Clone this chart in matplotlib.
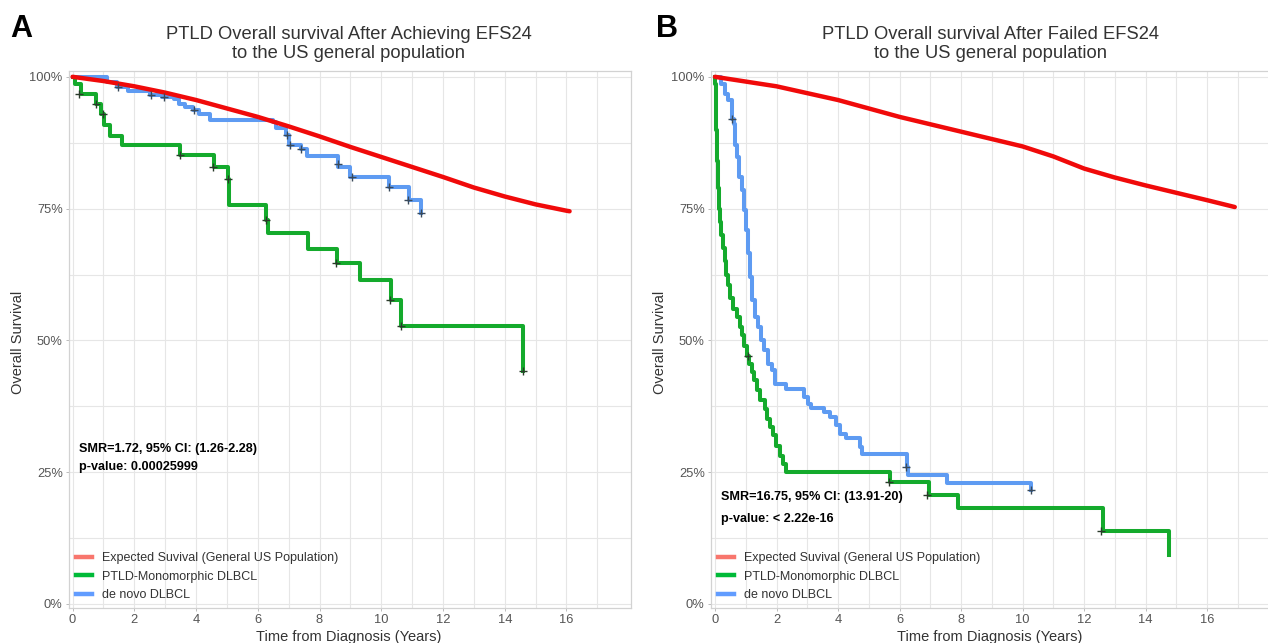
import numpy as np
import matplotlib
matplotlib.use("Agg")
import matplotlib.pyplot as plt
from matplotlib.lines import Line2D

plt.rcParams['font.family'] = ['Liberation Sans', 'DejaVu Sans']

# ---- panel A: achieved EFS24 ----
exp_a_t = [0, 1, 2, 3, 4, 5, 6, 7, 8, 9, 10, 11, 12, 13, 14, 15, 16, 16.1]
exp_a_s = [100, 99.2, 98.2, 97.0, 95.6, 94.0, 92.4, 90.6, 88.7, 86.7, 84.8, 82.9,
           81.0, 79.0, 77.3, 75.8, 74.6, 74.5]

ptld_a_t = [0, 0.07, 0.26, 0.77, 0.92, 1.03, 1.22, 1.59, 3.48, 4.58, 5.02, 5.08,
            6.27, 6.33, 7.62, 8.55, 9.3, 10.3, 10.65, 14.6]
ptld_a_s = [100, 98.7, 96.8, 94.9, 93.0, 90.8, 88.8, 87.0, 85.1, 82.9, 80.7, 75.6,
            72.8, 70.3, 67.4, 64.6, 61.4, 57.7, 52.8, 44.2]
ptld_a_cens_t = [0.2, 0.75, 1.0, 3.48, 4.55, 5.03, 6.25, 8.53, 10.28, 10.65, 14.6]
ptld_a_cens_s = [96.8, 94.9, 93.0, 85.1, 82.9, 80.7, 72.8, 64.6, 57.7, 52.8, 44.2]

denovo_a_t = [0, 1.1, 1.45, 1.8, 2.5, 2.9, 3.3, 3.45, 3.65, 3.9, 4.1, 4.45, 6.5,
              6.6, 6.9, 7.0, 7.4, 7.6, 8.6, 9.0, 10.25, 10.9, 11.3]
denovo_a_s = [100, 99.0, 98.0, 97.3, 96.6, 96.2, 95.7, 94.9, 94.3, 93.7, 93.0, 91.9,
              91.5, 90.2, 88.9, 87.0, 86.4, 84.9, 82.8, 81.0, 79.1, 76.7, 74.1]
denovo_a_cens_t = [1.48, 2.53, 2.97, 3.93, 6.95, 7.03, 7.4, 8.6, 9.05, 10.25, 10.85, 11.3]
denovo_a_cens_s = [98.0, 96.6, 96.2, 93.7, 88.9, 87.0, 86.4, 83.5, 81.0, 79.1, 76.7, 74.1]

# ---- panel B: failed EFS24 ----
exp_b_t = [0, 1, 2, 3, 4, 5, 6, 7, 8, 9, 10, 11, 12, 13, 14, 15, 16, 16.9]
exp_b_s = [100, 99.1, 98.2, 96.9, 95.6, 94.0, 92.4, 91.0, 89.6, 88.2, 86.8, 84.9,
           82.6, 80.9, 79.4, 78.0, 76.6, 75.3]

ptld_b_t = [0, 0.01, 0.04, 0.06, 0.09, 0.12, 0.16, 0.21, 0.26, 0.32, 0.37, 0.43,
            0.50, 0.60, 0.70, 0.80, 0.88, 0.95, 1.03, 1.10, 1.20, 1.27, 1.35, 1.45,
            1.62, 1.70, 1.80, 1.88, 1.98, 2.10, 2.20, 2.30, 5.70, 6.95, 7.90, 12.60,
            14.75]
ptld_b_s = [100, 98.7, 90, 84, 79, 75, 72.5, 70, 67.5, 65, 62.5, 60.5,
            58, 56, 54.4, 52.5, 51, 49, 47, 45.5, 44, 42.5, 40.5, 38.7,
            37, 35, 33.5, 32, 30, 28, 26.5, 25, 23.2, 20.7, 18.3, 13.9,
            9.3]
ptld_b_cens_t = [1.07, 5.65, 6.9, 12.55]
ptld_b_cens_s = [47.0, 23.2, 20.7, 13.9]

denovo_b_t = [0, 0.19, 0.32, 0.41, 0.55, 0.62, 0.66, 0.70, 0.78, 0.88, 0.93, 1.01,
              1.06, 1.14, 1.20, 1.30, 1.40, 1.48, 1.60, 1.72, 1.85, 1.96, 2.31, 2.89,
              3.02, 3.12, 3.54, 3.73, 3.92, 4.05, 4.25, 4.73, 4.77, 6.23, 6.28, 7.53,
              10.27]
denovo_b_s = [100, 98.7, 96.8, 95.6, 92, 91.1, 87, 84.8, 81, 78.5, 74.7, 70.9,
              66.5, 62, 57.6, 54.4, 52.5, 50, 48.1, 45.6, 44.3, 41.8, 40.8, 39.3,
              38, 37.1, 36.4, 35.5, 33.9, 32.3, 31.4, 29.8, 28.5, 26, 24.4, 22.9,
              21.6]
denovo_b_cens_t = [0.55, 6.2, 10.27]
denovo_b_cens_s = [92.0, 26.0, 21.6]

legend_labels = ["Expected Suvival (General US Population)", "PTLD-Monomorphic DLBCL",
                 "de novo DLBCL"]
y_ticks = [0, 25, 50, 75, 100]
y_ticklabels = ["0%", "25%", "50%", "75%", "100%"]
x_ticks = [0, 2, 4, 6, 8, 10, 12, 14, 16]

RED = "#F00A0A"
GREEN = "#14AA2C"
BLUE = "#5E9BF2"
KEY_COLORS = ["#F8766D", "#00BA38", "#619CFF"]
GRID = "#E6E6E6"
W, H = 1268, 643

fig = plt.figure(figsize=(W / 100, H / 100), dpi=100)


def make_axes(left_px, right_px, xlim):
    top_px, bot_px = 70.5, 608
    ax = fig.add_axes([left_px / W, 1 - bot_px / H, (right_px - left_px) / W,
                       (bot_px - top_px) / H])
    ax.set_xlim(*xlim)
    ax.set_ylim(-0.76, 101.2)
    ax.set_xticks(x_ticks)
    ax.set_xticks(np.arange(1, 18, 2), minor=True)
    ax.set_yticks(y_ticks)
    ax.set_yticklabels(y_ticklabels)
    ax.set_yticks([12.5, 37.5, 62.5, 87.5], minor=True)
    ax.grid(True, which="both", color=GRID, lw=0.8)
    ax.set_axisbelow(True)
    for s in ax.spines.values():
        s.set_color("#D2D2D2")
        s.set_linewidth(0.9)
    ax.tick_params(which="major", length=2.5, width=0.7, color="#BBBBBB",
                   labelsize=9.3, labelcolor="#555555", pad=2)
    ax.tick_params(which="minor", length=0)
    return ax


def draw(ax, et, es, pt, ps, pct, pcs, dt, ds, dct, dcs, smr, pval, ann_y):
    ax.plot(et, es, color=RED, lw=3.2, solid_capstyle="round", zorder=4)
    ax.step(dt, ds, where="post", color=BLUE, lw=2.9, zorder=3)
    ax.step(pt, ps, where="post", color=GREEN, lw=2.9, zorder=3)
    ax.plot(dct, dcs, ls="none", marker="+", ms=6, mew=1.0, color="#3A4A5A", zorder=5)
    ax.plot(pct, pcs, ls="none", marker="+", ms=6, mew=1.0, color="#2A3A2A", zorder=5)
    ax.text(0.2, ann_y[0], smr, va="center", ha="left", fontweight="bold",
            fontsize=9.1, color="black")
    ax.text(0.2, ann_y[1], pval, va="center", ha="left", fontweight="bold",
            fontsize=9.1, color="black")
    handles = [Line2D([], [], color=c, lw=3.2) for c in KEY_COLORS]
    ax.legend(handles, legend_labels, loc="lower left", bbox_to_anchor=(0.0, 0.0),
              frameon=False, fontsize=9.0, handlelength=1.3, handletextpad=0.8,
              labelspacing=0.52, borderaxespad=0.15, labelcolor="#333333")


axA = make_axes(69, 631, (-0.117, 18.09))
draw(axA, exp_a_t, exp_a_s, ptld_a_t, ptld_a_s, ptld_a_cens_t, ptld_a_cens_s,
     denovo_a_t, denovo_a_s, denovo_a_cens_t, denovo_a_cens_s,
     "SMR=1.72, 95% CI: (1.26-2.28)", "p-value: 0.00025999", (29.4, 25.9))

axB = make_axes(711, 1268, (-0.13, 17.98))
axB.spines["right"].set_visible(False)
draw(axB, exp_b_t, exp_b_s, ptld_b_t, ptld_b_s, ptld_b_cens_t, ptld_b_cens_s,
     denovo_b_t, denovo_b_s, denovo_b_cens_t, denovo_b_cens_s,
     "SMR=16.75, 95% CI: (13.91-20)", "p-value: < 2.22e-16", (20.3, 16.2))

# titles, panel letters, axis labels
titles = [("PTLD Overall survival After Achieving EFS24", 349, "A", 10, 18),
          ("PTLD Overall survival After Failed EFS24", 990, "B", 656, 660)]
for line1, cx, letter, lx, ylx in titles:
    fig.text(cx / W, 1 - 39 / H, line1, ha="center", va="baseline", fontsize=13.2,
             color="#333333")
    fig.text(cx / W, 1 - 58 / H, "to the US general population", ha="center",
             va="baseline", fontsize=13.2, color="#333333")
    fig.text(lx / W, 1 - 37 / H, letter, ha="left", va="baseline", fontsize=22,
             fontweight="bold", color="black")
    fig.text(ylx / W, 1 - 342 / H, "Overall Survival", rotation=90, ha="center",
             va="center", fontsize=10.5, color="#333333")
    fig.text(cx / W, 1 - 641 / H, "Time from Diagnosis (Years)", ha="center",
             va="baseline", fontsize=10.5, color="#333333")

fig.savefig("out.png", dpi=100)
